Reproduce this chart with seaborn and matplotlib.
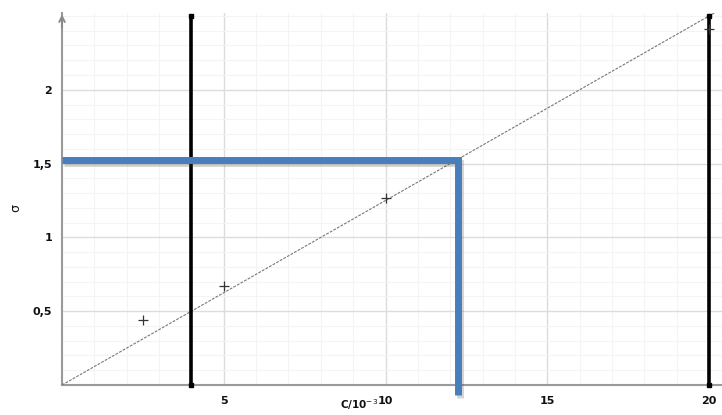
import numpy as np
import pandas as pd
import seaborn as sns
import matplotlib.pyplot as plt
import matplotlib.patheffects as pe
from matplotlib.ticker import MultipleLocator, FixedLocator

# calibration points (C in 10^-3, sigma)
cal_c = [2.5, 5, 10, 20]
cal_sigma = [0.44, 0.67, 1.27, 2.41]

# fitted line
fit_c = [0, 20.4]
fit_sigma = [0, 2.55]

# black vertical markers
vert_c = [4, 20]
vert_top = 2.5

# reading of the unknown sample
read_sigma = 1.525
read_c = 12.24

xticks = [5, 10, 15, 20]
yticks = [0.5, 1, 1.5, 2]
ytick_labels = ["0,5", "1", "1,5", "2"]

sns.set_theme(style="white")
plt.rcParams['font.family'] = ['DejaVu Sans']

fig = plt.figure(figsize=(7.22, 4.15), dpi=100)
ax = fig.add_axes([62/722, 30/415, 660/722, 372/415])

ax.set_xlim(0, 20.4)
ax.set_ylim(0, 2.52)

# grid
ax.xaxis.set_major_locator(FixedLocator(xticks))
ax.yaxis.set_major_locator(FixedLocator(yticks))
ax.xaxis.set_minor_locator(MultipleLocator(1))
ax.yaxis.set_minor_locator(MultipleLocator(0.1))
ax.grid(which='major', color='#dcdcdc', lw=1.0)
ax.grid(which='minor', color='#f4f4f4', lw=0.8)
ax.set_axisbelow(True)

# fit line
sns.lineplot(x=fit_c, y=fit_sigma, ax=ax, color='#777777', lw=0.8,
             linestyle=(0, (2.5, 1.2)), zorder=3)

# vertical black lines
for c in vert_c:
    ax.plot([c, c], [0, vert_top], color='black', lw=2.6, marker='s',
            markersize=3, zorder=4, clip_on=False, solid_capstyle='butt')

# calibration points
df = pd.DataFrame({"C": cal_c, "sigma": cal_sigma})
sns.scatterplot(data=df, x="C", y="sigma", ax=ax, marker='+', s=60,
                color='#333333', linewidth=0.9, zorder=5)

# reading lines with a soft shadow
shadow = [pe.SimpleLineShadow(offset=(1.5, -2.5), alpha=0.22, shadow_color='#444444'), pe.Normal()]
ax.plot([0, read_c, read_c], [read_sigma, read_sigma, -0.065],
        color='#4a7ebb', lw=5, solid_joinstyle='miter', solid_capstyle='butt',
        zorder=6, clip_on=False, path_effects=shadow)

# spines
for s in ['top', 'right']:
    ax.spines[s].set_visible(False)
for s in ['left', 'bottom']:
    ax.spines[s].set_color('#9a9a9a')
    ax.spines[s].set_linewidth(1.5)
ax.annotate("", xy=(0, 2.53), xytext=(0, 2.40),
            arrowprops=dict(arrowstyle='->', color='#8a8a8a', lw=1.4,
                            mutation_scale=10), annotation_clip=False)

ax.set_yticklabels(ytick_labels)
ax.tick_params(axis='both', which='both', length=0, labelsize=8, labelcolor='#111111')
ax.tick_params(axis='x', pad=8)
ax.tick_params(axis='y', pad=7)
for lab in ax.get_xticklabels() + ax.get_yticklabels():
    lab.set_fontweight('bold')

ax.set_xlabel(r"C/10$^{-3}$", fontsize=7.5, fontweight='bold', color='#111111', va='center')
ax.xaxis.set_label_coords((359 - 62) / 660, -20 / 372)
ax.set_ylabel("σ", fontsize=9, color='#111111')
ax.yaxis.set_label_coords(-40 / 660, 177 / 372)

fig.savefig("out.png", dpi=100)
